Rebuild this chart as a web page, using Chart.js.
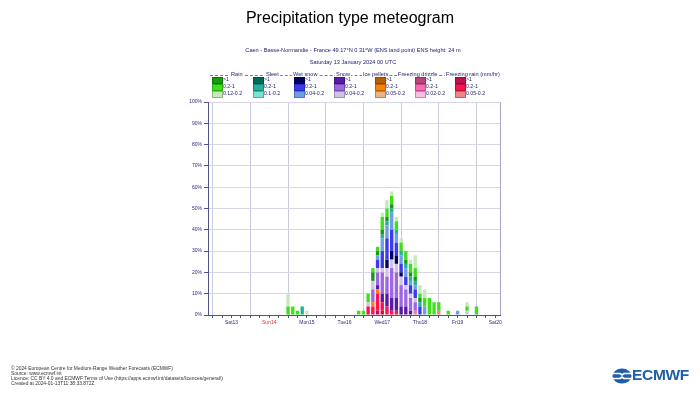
<!DOCTYPE html>
<html>
<head>
<meta charset="utf-8">
<script src="https://cdn.jsdelivr.net/npm/chart.js@4/dist/chart.umd.min.js"></script>
<style>
  body { margin: 0; background: #fff; font-family: "Liberation Sans", Arial, sans-serif; }
  #wrap { position: relative; width: 700px; height: 400px; overflow: hidden; }
  #chart { position: absolute; left: 0; top: 0; width: 700px; height: 400px; }
  .t { position: absolute; white-space: nowrap; }
  #title { left: 0; width: 700px; top: 9px; text-align: center; font-size: 16px; color: #000; }
  .sub { left: 0; width: 706px; text-align: center; font-size: 5.6px; color: #1c1c6c; }
  .hdr { font-size: 5.6px; color: #1c1c6c; top: 71px; background: #fff; padding: 0 1px; }
  #hdrline { position: absolute; left: 210px; width: 287px; top: 74.5px; border-top: 1px dashed #7a7aa8; }
  .sw { position: absolute; width: 9px; height: 5.5px; border: 0.6px solid rgba(0,0,0,0.25); }
  .lt { position: absolute; font-size: 5.2px; color: #1c1c6c; white-space: nowrap; }
  .foot { left: 11px; font-size: 4.9px; color: #333; }
  #logo { position: absolute; left: 612px; top: 367px; }
  #logotxt { position: absolute; left: 632px; top: 366px; font-size: 15.5px; font-weight: bold; color: #1f5ea8; letter-spacing: -0.3px; }
</style>
</head>
<body>
<div id="wrap">
  <canvas id="chart" width="700" height="400"></canvas>
  <div class="t" id="title">Precipitation type meteogram</div>
  <div class="t sub" style="top:47px">Caen - Basse-Normandie - France 49.17°N 0.31°W (ENS land point) ENS height: 24 m</div>
  <div class="t sub" style="top:59px">Saturday 13 January 2024 00 UTC</div>
  <div id="hdrline"></div>
  <div id="legend"></div>
  <div class="t foot" style="top:366px">© 2024 European Centre for Medium-Range Weather Forecasts (ECMWF)</div>
  <div class="t foot" style="top:371px">Source: www.ecmwf.int</div>
  <div class="t foot" style="top:376px">Licence: CC BY 4.0 and ECMWF Terms of Use (https://apps.ecmwf.int/datasets/licences/general/)</div>
  <div class="t foot" style="top:381px">Created at 2024-01-13T11:38:33.872Z</div>
  <svg id="logo" width="20" height="18" viewBox="0 0 20 18">
    <ellipse cx="10" cy="9" rx="9.5" ry="7.5" fill="#1f5ea8"/>
    <path d="M1 6.5 H8 L10 8 L12 6.5 H19" stroke="#fff" stroke-width="1.6" fill="none"/>
    <path d="M1 11.5 H8 L10 10 L12 11.5 H19" stroke="#fff" stroke-width="1.6" fill="none"/>
  </svg>
  <div id="logotxt">ECMWF</div>
</div>
<script>
// forecast step (hours from Sat 13 Jan 2024 00 UTC)
const hours = [48, 51, 54, 57, 60, 93, 96, 99, 102, 105, 108, 111, 114, 117, 120, 123, 126, 129, 132, 135, 138, 141, 144, 150, 156, 162, 168];
const dayLabels = ['Sat13', 'Sun14', 'Mon15', 'Tue16', 'Wed17', 'Thu18', 'Fri19', 'Sat20'];

// probability (%) per type and intensity class
const rainHeavy  = [0, 0, 0, 0, 0, 0, 0, 0, 4, 2, 2, 2, 2, 0, 0, 2, 2, 2, 2, 0, 0, 0, 0, 0, 0, 0, 0];
const rainMod    = [4, 4, 2, 0, 0, 2, 2, 4, 2, 2, 6, 4, 4, 4, 4, 4, 4, 4, 2, 4, 8, 6, 4, 2, 0, 2, 4];
const rainLight  = [6, 0, 0, 0, 2, 0, 0, 0, 0, 0, 2, 4, 2, 2, 2, 0, 2, 6, 4, 4, 0, 0, 0, 0, 0, 2, 0];
const sleetHeavy = [0, 0, 0, 0, 0, 0, 0, 0, 0, 0, 0, 0, 0, 0, 0, 0, 0, 0, 0, 0, 0, 0, 0, 0, 0, 0, 0];
const sleetMod   = [0, 0, 0, 4, 0, 0, 0, 0, 0, 0, 2, 2, 2, 2, 2, 2, 2, 2, 2, 0, 0, 0, 0, 0, 0, 0, 0];
const sleetLight = [0, 0, 0, 0, 0, 0, 0, 0, 0, 0, 0, 0, 0, 0, 0, 0, 0, 0, 0, 0, 0, 0, 0, 0, 0, 0, 0];
const wetHeavy   = [0, 0, 0, 0, 0, 0, 0, 0, 0, 0, 0, 4, 4, 4, 2, 0, 0, 0, 0, 0, 0, 0, 0, 0, 0, 0, 0];
const wetMod     = [0, 0, 0, 0, 0, 0, 0, 0, 0, 4, 8, 10, 10, 6, 4, 4, 4, 4, 4, 0, 0, 0, 0, 0, 0, 0, 0];
const wetLight   = [0, 0, 0, 0, 0, 0, 0, 0, 0, 2, 6, 6, 8, 4, 4, 4, 2, 2, 0, 4, 0, 0, 0, 0, 2, 0, 0];
const snowHeavy  = [0, 0, 0, 0, 0, 0, 0, 0, 0, 2, 4, 6, 6, 6, 4, 4, 2, 0, 0, 0, 0, 0, 0, 0, 0, 0, 0];
const snowMod    = [0, 0, 0, 0, 0, 0, 0, 0, 6, 6, 10, 8, 14, 12, 10, 8, 6, 4, 0, 0, 0, 0, 0, 0, 0, 0, 0];
const snowLight  = [0, 0, 0, 0, 0, 0, 0, 2, 4, 2, 2, 4, 4, 4, 4, 2, 2, 2, 0, 0, 0, 0, 0, 0, 0, 2, 0];
const iceHeavy   = [0, 0, 0, 0, 0, 0, 0, 0, 0, 0, 0, 0, 0, 0, 0, 0, 0, 0, 0, 0, 0, 0, 0, 0, 0, 0, 0];
const iceMod     = [0, 0, 0, 0, 0, 0, 0, 0, 2, 2, 0, 0, 0, 0, 0, 0, 0, 0, 0, 0, 0, 0, 0, 0, 0, 0, 0];
const iceLight   = [0, 0, 0, 0, 0, 0, 0, 0, 0, 0, 0, 0, 0, 0, 0, 0, 0, 0, 0, 0, 0, 0, 0, 0, 0, 0, 0];
const fzdzHeavy  = [0, 0, 0, 0, 0, 0, 0, 0, 0, 0, 0, 0, 0, 0, 0, 0, 0, 0, 0, 0, 0, 0, 0, 0, 0, 0, 0];
const fzdzMod    = [0, 0, 0, 0, 0, 0, 0, 0, 0, 0, 0, 0, 0, 0, 0, 0, 0, 0, 0, 0, 0, 0, 0, 0, 0, 0, 0];
const fzdzLight  = [0, 0, 0, 0, 0, 0, 0, 0, 0, 0, 0, 0, 0, 0, 0, 0, 0, 0, 0, 0, 0, 0, 0, 0, 0, 0, 0];
const fzraHeavy  = [0, 0, 0, 0, 0, 0, 0, 0, 0, 2, 2, 0, 0, 0, 0, 0, 0, 0, 0, 0, 0, 0, 0, 0, 0, 0, 0];
const fzraMod    = [0, 0, 0, 0, 0, 0, 0, 4, 4, 8, 4, 4, 2, 2, 0, 0, 0, 0, 0, 0, 0, 0, 0, 0, 0, 0, 0];
const fzraLight  = [0, 0, 0, 0, 0, 0, 0, 0, 0, 0, 0, 0, 0, 0, 0, 0, 0, 2, 0, 0, 0, 0, 2, 0, 0, 0, 0];

// legend / stacking groups, bottom of the stack first
const types = [
  { name: 'Freezing rain (mm/hr)', classes: ['>1', '0.2-1', '0.05-0.2'], colors: ['#c0104c', '#ff1050', '#f08484'], data: [fzraHeavy, fzraMod, fzraLight] },
  { name: 'Freezing drizzle', classes: ['>1', '0.2-1', '0.02-0.2'], colors: ['#b8447c', '#ff66b4', '#ffbce0'], data: [fzdzHeavy, fzdzMod, fzdzLight] },
  { name: 'Ice pellets', classes: ['>1', '0.2-1', '0.05-0.2'], colors: ['#b86000', '#ff8000', '#e8b484'], data: [iceHeavy, iceMod, iceLight] },
  { name: 'Snow', classes: ['>1', '0.2-1', '0.04-0.2'], colors: ['#5a1aa8', '#9e66e4', '#d0c2ec'], data: [snowHeavy, snowMod, snowLight] },
  { name: 'Wet snow', classes: ['>1', '0.2-1', '0.04-0.2'], colors: ['#000060', '#3a3af0', '#6f9ee8'], data: [wetHeavy, wetMod, wetLight] },
  { name: 'Sleet', classes: ['>1', '0.2-1', '0.1-0.2'], colors: ['#006a5a', '#22b09c', '#74e4d4'], data: [sleetHeavy, sleetMod, sleetLight] },
  { name: 'Rain', classes: ['>1', '0.2-1', '0.12-0.2'], colors: ['#189a10', '#3ee01c', '#c4eab8'], data: [rainHeavy, rainMod, rainLight] }
];

const datasets = [];
types.forEach(function (t) {
  t.data.forEach(function (arr, k) {
    datasets.push({
      label: t.name + ' ' + t.classes[k],
      data: hours.map(function (h, i) { return { x: h, y: arr[i] }; }),
      backgroundColor: t.colors[k],
      borderWidth: 0,
      barPercentage: 1,
      categoryPercentage: 0.72
    });
  });
});

// html legend, laid out left to right: Rain ... Freezing rain
const legendOrder = types.slice().reverse();
const legendX = [212, 253, 294, 334, 375, 415, 455];
const headerX = [230, 265, 292, 335, 362, 397, 445];
const legend = document.getElementById('legend');
legendOrder.forEach(function (t, c) {
  const h = document.createElement('div');
  h.className = 't hdr';
  h.style.left = headerX[c] + 'px';
  h.textContent = t.name;
  legend.appendChild(h);
  t.classes.forEach(function (cl, k) {
    const top = 76.5 + k * 7;
    const sw = document.createElement('div');
    sw.className = 'sw';
    sw.style.left = legendX[c] + 'px';
    sw.style.top = top + 'px';
    sw.style.background = t.colors[k];
    legend.appendChild(sw);
    const lt = document.createElement('div');
    lt.className = 'lt';
    lt.style.left = (legendX[c] + 11) + 'px';
    lt.style.top = (top - 0.5) + 'px';
    lt.textContent = cl;
    legend.appendChild(lt);
  });
});

const frame = {
  id: 'frame',
  afterDraw: function (chart) {
    const a = chart.chartArea, ctx = chart.ctx;
    ctx.save();
    ctx.strokeStyle = '#a8a8c8';
    ctx.lineWidth = 1;
    ctx.beginPath();
    ctx.moveTo(a.right + 0.5, a.top);
    ctx.lineTo(a.right + 0.5, a.bottom);
    ctx.stroke();
    ctx.restore();
  }
};

new Chart(document.getElementById('chart'), {
  type: 'bar',
  data: { datasets: datasets },
  options: {
    responsive: false,
    animation: false,
    layout: { padding: { left: 180, right: 200, top: 102, bottom: 69 } },
    plugins: { legend: { display: false }, tooltip: { enabled: false } },
    scales: {
      x: {
        type: 'linear',
        stacked: true,
        min: 0,
        max: 180,
        afterFit: function (s) { s.height = 16; },
        border: { color: '#50508a', width: 1 },
        grid: {
          offset: false,
          color: function (ctx) { return ctx.tick && ctx.tick.value % 24 === 0 ? '#cacadf' : 'rgba(0,0,0,0)'; },
          tickColor: '#50508a',
          tickLength: 3
        },
        ticks: {
          stepSize: 6,
          autoSkip: false,
          maxRotation: 0,
          padding: 2,
          font: { family: 'Liberation Sans', size: 5 },
          color: function (ctx) { return ctx.tick && ctx.tick.value === 36 ? '#e03030' : '#2c2c7c'; },
          callback: function (v) { return v % 24 === 12 ? dayLabels[(v - 12) / 24] : ''; }
        }
      },
      y: {
        stacked: true,
        min: 0,
        max: 100,
        afterFit: function (s) { s.width = 28; },
        border: { color: '#50508a', width: 1 },
        grid: { color: '#d6d6e8', tickColor: '#50508a', tickLength: 4 },
        ticks: {
          stepSize: 10,
          padding: 2,
          font: { family: 'Liberation Sans', size: 5 },
          color: '#2c2c7c',
          callback: function (v) { return v + '%'; }
        }
      }
    }
  },
  plugins: [frame]
});
</script>
</body>
</html>
